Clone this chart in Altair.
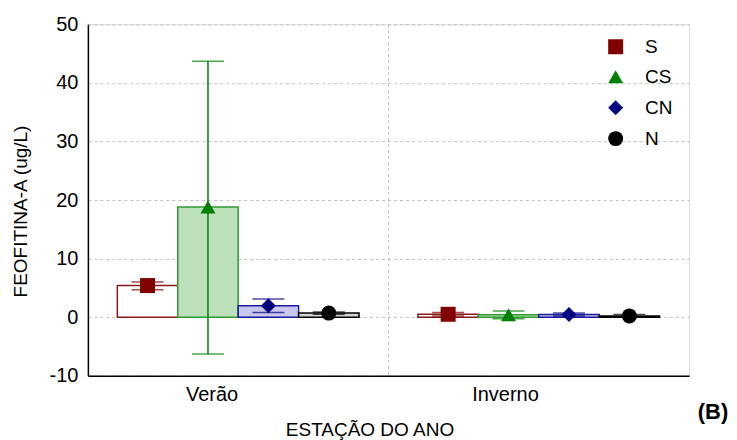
import altair as alt
import pandas as pd

estacoes = ["Verão", "Inverno"]
series = ["S", "CS", "CN", "N"]

media_verao = [5.4, 18.8, 1.95, 0.7]
inf_verao = [4.7, -6.3, 0.8, 0.5]
sup_verao = [6.0, 43.7, 3.1, 0.9]

media_inverno = [0.5, 0.4, 0.45, 0.22]
inf_inverno = [0.2, -0.25, 0.2, 0.0]
sup_inverno = [0.8, 1.05, 0.7, 0.45]

cores_marcador = ["#800000", "#008000", "#000080", "#000000"]
cores_preench = ["#ffffff", "#bcdfbc", "#c8c8ec", "#d2d2d2"]
cores_borda = ["#8b1a1a", "#2f9a2f", "#1a1a9a", "#000000"]
formas = ["square", "triangle-up", "diamond", "circle"]

linhas = []
for est, med, inf, sup in [("Verão", media_verao, inf_verao, sup_verao),
                           ("Inverno", media_inverno, inf_inverno, sup_inverno)]:
    for s, m, a, b in zip(series, med, inf, sup):
        linhas.append({"estacao": est, "serie": s, "grupo": s,
                       "media": m, "inf": a, "sup": b})
df = pd.DataFrame(linhas)

FONT = "Liberation Sans"

x_scale = alt.Scale(domain=estacoes, paddingInner=0, paddingOuter=0)
x_enc = alt.X("estacao:N", sort=estacoes, scale=x_scale,
              axis=alt.Axis(title="ESTAÇÃO DO ANO", labelAngle=0, ticks=False,
                            labelFontSize=20, labelPadding=19, labelColor="black",
                            titleFontSize=19, titleFontWeight="normal",
                            titleX=282, titleY=54, titleBaseline="middle",
                            titleAnchor="start", titleAlign="center",
                            grid=False, domainColor="black", domainWidth=1.5))
xo_enc = alt.XOffset("serie:N", sort=series,
                     scale=alt.Scale(domain=series, paddingInner=0, paddingOuter=0.4875))
y_scale = alt.Scale(domain=[-10, 50], nice=False, zero=False)
y_enc = alt.Y("media:Q", scale=y_scale,
              axis=alt.Axis(title="FEOFITINA-A (ug/L)", values=[-10, 0, 10, 20, 30, 40, 50],
                            labelExpr="datum.value + ''",
                            ticks=False, labelFontSize=20, labelPadding=10, labelColor="black",
                            titleFontSize=19, titleFontWeight="normal",
                            titleX=-67, titleY=187, titleAngle=270,
                            titleAlign="center", titleBaseline="middle",
                            grid=True, gridDash=[3, 3], gridColor="#c0c0c0", gridWidth=1,
                            domainColor="black", domainWidth=1.5))

legenda = alt.Legend(title=None, orient="none", legendX=519, legendY=13)
cor = alt.Color("serie:N", sort=series,
                scale=alt.Scale(domain=series, range=cores_marcador), legend=legenda)
forma = alt.Shape("serie:N", sort=series,
                  scale=alt.Scale(domain=series, range=formas), legend=legenda)

base = alt.Chart(df)

barras = base.mark_bar(strokeWidth=1.5).encode(
    x=x_enc, xOffset=xo_enc, y=y_enc,
    fill=alt.Fill("grupo:N", sort=series,
                  scale=alt.Scale(range=cores_preench), legend=None),
    stroke=alt.Stroke("grupo:N", sort=series,
                      scale=alt.Scale(range=cores_borda), legend=None),
)

erros = base.mark_bar(size=1.5).encode(
    x=x_enc, xOffset=xo_enc, y=alt.Y("inf:Q", scale=y_scale), y2="sup:Q", color=cor)

cap_inf = base.mark_tick(thickness=1.5, size=32).encode(
    x=x_enc, xOffset=xo_enc, y=alt.Y("inf:Q", scale=y_scale), color=cor)
cap_sup = base.mark_tick(thickness=1.5, size=32).encode(
    x=x_enc, xOffset=xo_enc, y=alt.Y("sup:Q", scale=y_scale), color=cor)

pontos = base.mark_point(filled=True, size=225, opacity=1).encode(
    x=x_enc, xOffset=xo_enc, y=y_enc, color=cor, shape=forma)

divisor = alt.Chart(pd.DataFrame({"d": ["Inverno"]})).mark_rule(
    strokeDash=[3, 3], color="#c0c0c0", strokeWidth=1).encode(
    x=alt.X("d:N", bandPosition=0, sort=estacoes, scale=x_scale))

rotulo = alt.Chart(pd.DataFrame({"t": ["(B)"]})).mark_text(
    font=FONT, fontSize=22, fontWeight="bold", color="black", align="center",
    baseline="middle").encode(text="t:N", x=alt.value(626), y=alt.value(388))

chart = alt.layer(divisor, barras, erros, cap_inf, cap_sup, pontos, rotulo).properties(
    width=602, height=352,
    autosize=alt.AutoSizeParams(type="none"),
    padding={"left": 80, "top": 16, "right": 40, "bottom": 64},
).configure_view(stroke="black", strokeWidth=1.5).configure(
    font=FONT
).configure_axis(labelFont=FONT, titleFont=FONT, titleColor="black"
).configure_legend(symbolSize=225, labelFontSize=19, labelFont=FONT,
                   labelOffset=20, rowPadding=10, symbolOpacity=1,
                   labelColor="black")

chart.save("out.html", embed_options={"renderer": "svg", "actions": False})
